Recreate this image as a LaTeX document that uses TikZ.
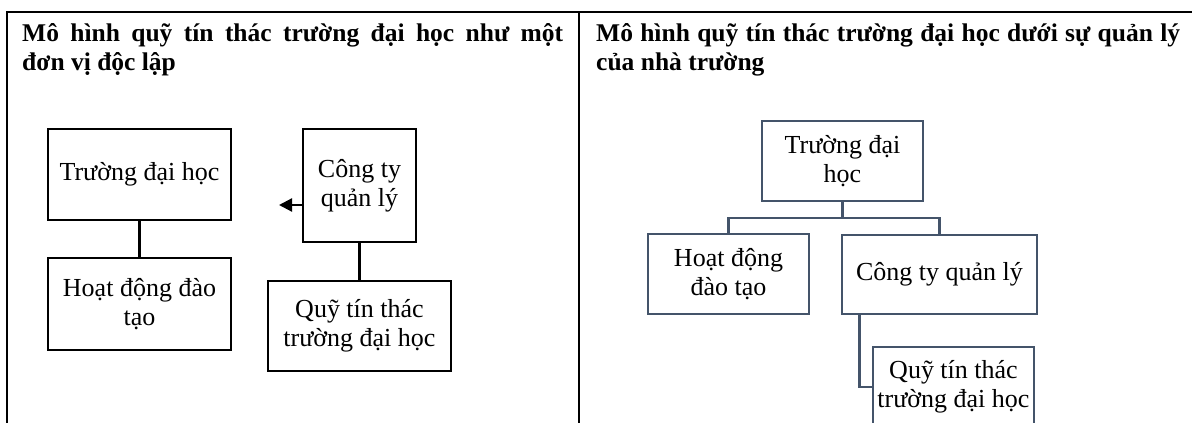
\documentclass[tikz,border=0pt]{standalone}
\usepackage{fontspec}
\setmainfont{Liberation Serif}
\usetikzlibrary{arrows.meta}
\definecolor{slate}{HTML}{44546A}
\tikzset{
 lbox/.style={draw=black, line width=2.2pt, align=center, inner sep=0pt, font=\fontsize{26}{29}\selectfont},
 rbox/.style={draw=slate, line width=2.8pt, align=center, inner sep=0pt, font=\fontsize{26}{29}\selectfont},
 lconn/.style={draw=black, line width=2.2pt},
 rconn/.style={draw=slate, line width=2.8pt},
 frame/.style={draw=black, line width=1.8pt},
 title/.style={anchor=base west, inner sep=0pt, font=\fontsize{25.5}{28}\bfseries\selectfont}
}
\begin{document}
\begin{tikzpicture}[x=1pt,y=-1pt]
\useasboundingbox (0,0) rectangle (1192,423);
\clip (0,0) rectangle (1192,423);
\draw[frame] (7,430) -- (7,12) -- (1195,12);
\draw[frame] (579,12) -- (579,430);
\node[title] (t1a) at (22,41) {\makebox[541pt][s]{Mô hình quỹ tín thác trường đại học như một}};
\node[title] (t1b) at (22,70) {đơn vị độc lập};
\node[title] (t2a) at (596,41) {\makebox[584pt][s]{Mô hình quỹ tín thác trường đại học dưới sự quản lý}};
\node[title] (t2b) at (596,70) {của nhà trường};
\node[lbox, minimum width=183pt, minimum height=91pt] (L1) at (139.5,174.5) {Trường đại học};
\node[lbox, minimum width=183pt, minimum height=92pt] (L2) at (139.5,304) {Hoạt động đào\\tạo};
\node[lbox, minimum width=113pt, minimum height=113pt] (L3) at (359.5,185.5) {Công ty\\quản lý};
\node[lbox, minimum width=183pt, minimum height=90pt] (L4) at (359.5,326) {Quỹ tín thác\\trường đại học};
\coordinate (Ltip) at (279,205);
\draw[lconn] (L1) -- (L2);
\draw[lconn] (L3) -- (L4);
\draw[lconn, -{Triangle[length=13pt,width=13pt]}] (L3.west |- Ltip) -- (Ltip);
\node[rbox, minimum width=161pt, minimum height=80pt] (R1) at (842.5,161) {Trường đại\\học};
\node[rbox, minimum width=161pt, minimum height=80pt] (R2) at (728.5,274) {Hoạt động\\đào tạo};
\node[rbox, minimum width=195pt, minimum height=79pt] (R3) at (939.5,274.5) {Công ty quản lý};
\node[rbox, minimum width=161pt, minimum height=80pt] (R4) at (953.5,387) {Quỹ tín thác\\trường đại học};
\coordinate (bus) at (0,218);
\draw[rconn] (R1.south) -- (R1.south |- bus) -| (R2.north);
\draw[rconn] (R1.south |- bus) -| (R3.north);
\draw[rconn] ([xshift=19pt]R3.south west) |- (R4.west);
\end{tikzpicture}
\end{document}
